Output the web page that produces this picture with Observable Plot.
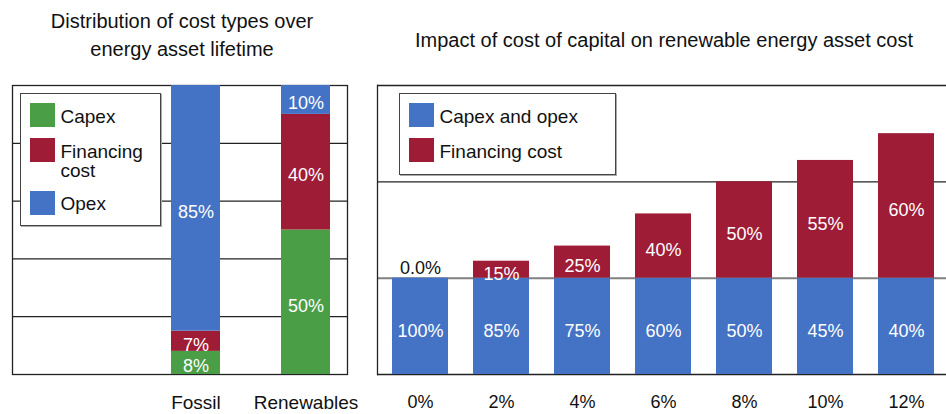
<!DOCTYPE html>
<html>
<head>
<meta charset="utf-8">
<script src="https://cdn.jsdelivr.net/npm/d3@7"></script>
<script src="https://cdn.jsdelivr.net/npm/@observablehq/plot@0.6"></script>
<style>
  html, body { margin: 0; padding: 0; background: #fff; width: 946px; height: 414px; overflow: hidden; }
  body { position: relative; font-family: "Liberation Sans", Arial, sans-serif; color: #111; }
  .title { position: absolute; font-size: 20px; line-height: 28.4px; text-align: center; white-space: nowrap; transform: translateX(-50%); }
  .chart { position: absolute; top: 0; }
  .legend { position: absolute; border: 1.5px solid #444; box-shadow: 1px 1px 0 #aaa; background: #fff; font-size: 19px; }
  .legend .sw { position: absolute; width: 25px; height: 24px; }
  .legend .lbl { position: absolute; line-height: 19px; white-space: nowrap; }
</style>
</head>
<body>
<div class="title" style="left:182px; top:7px;">Distribution of cost types over<br>energy asset lifetime</div>
<div class="title" style="left:664px; top:25.6px;">Impact of cost of capital on renewable energy asset cost</div>
<div id="left" class="chart" style="left:0px;"></div>
<div id="right" class="chart" style="left:365px;"></div>
<div id="legendLeft" class="legend" style="left:20px; top:93px; width:139px; height:131px;"></div>
<div id="legendRight" class="legend" style="left:399px; top:93px; width:215px; height:80px;"></div>
<script>
// ---------- data ----------
const leftCategories = ["Fossil", "Renewables"];
const leftTypes = ["Capex", "Financing cost", "Opex"];
const fossilShares = [8, 7, 85];
const renewableShares = [50, 40, 10];

const rates = ["0%", "2%", "4%", "6%", "8%", "10%", "12%"];
const rightTypes = ["Capex and opex", "Financing cost"];
const capexOpexValues = [100, 100, 100, 100, 100, 100, 100];
const financingValues = [0, 17.6, 33.3, 66.7, 100, 122.2, 150];
const capexOpexLabels = ["100%", "85%", "75%", "60%", "50%", "45%", "40%"];
const financingLabels = ["0.0%", "15%", "25%", "40%", "50%", "55%", "60%"];

const BLUE = "#4472C4", RED = "#9F1C37", GREEN = "#4A9E45";
const TXT_FONT = "'Liberation Sans', Arial, sans-serif";

// ---------- left chart ----------
const leftData = [];
leftTypes.forEach((t, i) => {
  leftData.push({cat: "Fossil", type: t, value: fossilShares[i]});
  leftData.push({cat: "Renewables", type: t, value: renewableShares[i]});
});

const leftPlot = Plot.plot({
  width: 365, height: 414,
  marginTop: 85, marginBottom: 40, marginLeft: 12, marginRight: 18,
  style: {background: "transparent", fontFamily: TXT_FONT, color: "#111"},
  x: {domain: leftCategories, range: [171, 330], paddingInner: 0.555, paddingOuter: 0, axis: null},
  y: {domain: [0, 100], axis: null},
  color: {domain: leftTypes, range: [GREEN, RED, BLUE]},
  marks: [
    Plot.ruleY([20, 40, 60, 80], {stroke: "#222", strokeWidth: 1.3}),
    Plot.frame({stroke: "#222", strokeWidth: 1.3}),
    Plot.barY(leftData, Plot.stackY({x: "cat", y: "value", z: "type", fill: "type"})),
    Plot.text(leftData, Plot.stackY({x: "cat", y: "value", z: "type", text: d => d.value + "%",
      fill: "white", fontSize: 18, fontFamily: TXT_FONT, dy: 3.5})),
    Plot.axisX({tickSize: 0, tickPadding: 21, fontSize: 19, fontFamily: TXT_FONT, fill: "#111", label: null})
  ]
});
document.getElementById("left").appendChild(leftPlot);

// ---------- right chart ----------
const rightData = [];
rates.forEach((r, i) => {
  rightData.push({rate: r, type: "Capex and opex", value: capexOpexValues[i], label: capexOpexLabels[i]});
  rightData.push({rate: r, type: "Financing cost", value: financingValues[i], label: financingLabels[i]});
});
const zeroLabels = rates.map((r, i) => ({rate: r, top: capexOpexValues[i] + financingValues[i], label: financingLabels[i], fin: financingValues[i]}))
  .filter(d => d.fin === 0);

const rightPlot = Plot.plot({
  width: 581, height: 414,
  marginTop: 85, marginBottom: 40, marginLeft: 12, marginRight: 0,
  style: {background: "transparent", fontFamily: TXT_FONT, color: "#111"},
  x: {domain: rates, range: [26, 570], paddingInner: 0.311, paddingOuter: 0, axis: null},
  y: {domain: [0, 300], axis: null},
  color: {domain: rightTypes, range: [BLUE, RED]},
  marks: [
    Plot.ruleY([100], {stroke: "#808080", strokeWidth: 2}),
    Plot.ruleY([0, 200, 300], {stroke: "#222", strokeWidth: 1.3}),
    Plot.frame({anchor: "left", stroke: "#222", strokeWidth: 1.3}),
    Plot.barY(rightData, Plot.stackY({x: "rate", y: "value", z: "type", fill: "type"})),
    Plot.text(rightData, Plot.stackY({x: "rate", y: "value", z: "type",
      text: d => d.value > 0 ? d.label : null,
      fill: "white", fontSize: 18, fontFamily: TXT_FONT, dy: 4.5})),
    Plot.text(zeroLabels, {x: "rate", y: "top", text: "label", fill: "#111", fontSize: 18, fontFamily: TXT_FONT, dy: -10}),
    Plot.axisX({tickSize: 0, tickPadding: 21, fontSize: 18, fontFamily: TXT_FONT, fill: "#111", label: null})
  ]
});
document.getElementById("right").appendChild(rightPlot);

// ---------- legends ----------
function buildLegend(el, items, origin) {
  items.forEach(it => {
    const sw = document.createElement("div");
    sw.className = "sw";
    sw.style.left = (it.sx - origin.x) + "px";
    sw.style.top = (it.sy - origin.y) + "px";
    sw.style.background = it.color;
    el.appendChild(sw);
    const lb = document.createElement("div");
    lb.className = "lbl";
    lb.style.left = (it.tx - origin.x) + "px";
    lb.style.top = (it.ty - origin.y) + "px";
    lb.innerHTML = it.text;
    el.appendChild(lb);
  });
}
buildLegend(document.getElementById("legendLeft"), [
  {text: leftTypes[0], color: GREEN, sx: 30, sy: 103.5, tx: 61, ty: 107.5},
  {text: "Financing<br>cost", color: RED, sx: 30, sy: 138.5, tx: 61, ty: 142},
  {text: leftTypes[2], color: BLUE, sx: 30, sy: 191.5, tx: 61, ty: 194.5}
], {x: 21.5, y: 94.5});
buildLegend(document.getElementById("legendRight"), [
  {text: rightTypes[0], color: BLUE, sx: 409, sy: 103.5, tx: 440, ty: 107.5},
  {text: rightTypes[1], color: RED, sx: 409, sy: 138.5, tx: 440, ty: 142.5}
], {x: 400.5, y: 94.5});
</script>
</body>
</html>
